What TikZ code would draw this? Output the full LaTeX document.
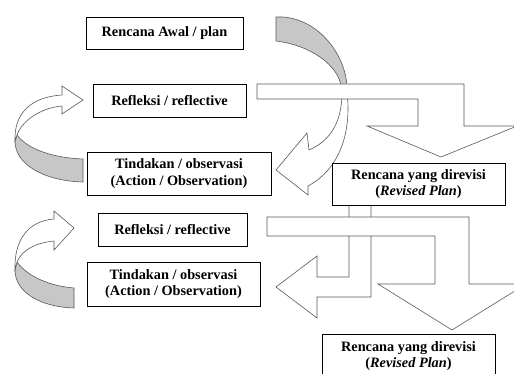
\documentclass[tikz,border=0pt]{standalone}
\usepackage{fontspec}
\setmainfont{Liberation Serif}
\begin{document}
\begin{tikzpicture}[x=1pt,y=-1pt,
  box/.style={draw=black,line width=0.8pt,fill=white,align=center,inner sep=1pt,
    font=\fontsize{14.3}{16.8}\selectfont\bfseries},
  blk/.style={draw=black!65,line width=0.6pt,fill=white,line join=miter},
  band/.style={draw=black!65,line width=0.6pt,fill=black!22}]
\useasboundingbox[fill=white] (0,0) rectangle (514,374);
% top curved arrow (plan -> action)
\path[band] (276,17) -- (283,17) .. controls (320,20) and (345,55) .. (347,86)
  -- (341,86) .. controls (338,65) and (310,45) .. (276,41) -- cycle;
\path[blk] (342,92) .. controls (342,120) and (332,140) .. (309,150) -- (307,133)
  -- (276,170) -- (308,195) -- (308,186) .. controls (338,170) and (352,135) .. (347,92) -- cycle;
% top bent arrow
\path[blk] (257,84) -- (464,84) -- (464,126) -- (517,126) -- (441,157) -- (367,126)
  -- (418,126) -- (418,99) -- (257,99) -- cycle;
% left curved arrow 1
\path[band] (17,135) .. controls (28,150) and (55,158) .. (83,159) -- (83,182)
  .. controls (45,181) and (15,165) .. (15,141) -- cycle;
\path[blk] (62,95) -- (62,86) -- (83,100) -- (62,114) -- (62,106)
  .. controls (40,108) and (22,121) .. (17,135) -- (15,141)
  .. controls (14,114) and (30,97) .. (62,95) -- cycle;
% left curved arrow 2
\path[band] (17,262) .. controls (28,277) and (50,286) .. (74,288) -- (74,308)
  .. controls (40,307) and (15,292) .. (15,270) -- cycle;
\path[blk] (54,219) -- (54,211) -- (74,228) -- (54,250) -- (54,241)
  .. controls (35,243) and (22,250) .. (17,262) -- (15,270)
  .. controls (14,240) and (28,221) .. (54,219) -- cycle;
% lower bent-left arrow (behind bar)
\path[blk] (349,205) -- (349,277) -- (317,277) -- (317,256) -- (276,287) -- (317,318)
  -- (317,297) -- (371,297) -- (371,205) -- cycle;
% lower bent-down arrow
\path[blk] (267,217) -- (469,217) -- (469,284) -- (526,284) -- (452,330) -- (378,284)
  -- (435,284) -- (435,236) -- (267,236) -- cycle;
% boxes
\node[box,minimum width=157pt,minimum height=32pt] (plan) at (164.5,33) {Rencana Awal / plan};
\node[box,minimum width=153pt,minimum height=33pt] (ref1) at (169.5,100.5) {Refleksi / reflective};
\node[box,minimum width=184pt,minimum height=43pt] (act1) at (179,173.5) {Tindakan / observasi\\(Action / Observation)};
\node[box,minimum width=173pt,minimum height=42pt] (rev1) at (418.5,184) {Rencana yang direvisi\\(\textit{Revised Plan})};
\node[box,minimum width=149pt,minimum height=33pt] (ref2) at (172.5,229.5) {Refleksi / reflective};
\node[box,minimum width=173pt,minimum height=44pt] (act2) at (173.5,284) {Tindakan / observasi\\(Action / Observation)};
\node[box,minimum width=173pt,minimum height=44pt] (rev2) at (408.5,356) {Rencana yang direvisi\\(\textit{Revised Plan})};
\end{tikzpicture}
\end{document}
